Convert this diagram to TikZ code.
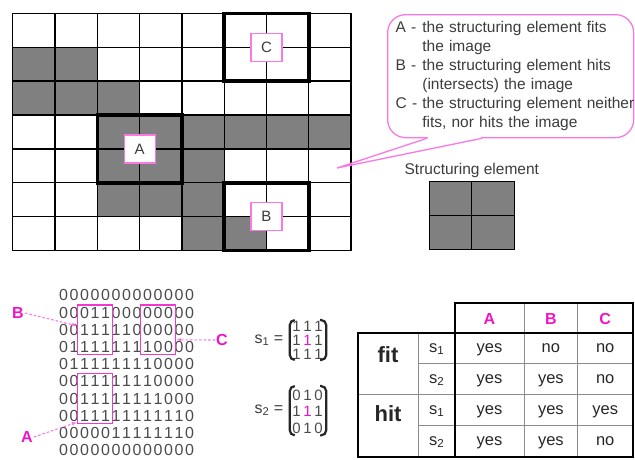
\documentclass[tikz,border=0pt]{standalone}
\usepackage{fontspec}
\setmainfont{Liberation Sans}
\usetikzlibrary{arrows.meta,positioning,fit,matrix}
\definecolor{mpink}{RGB}{240,20,200}
\definecolor{lpink}{RGB}{250,120,228}
\definecolor{cellgray}{RGB}{128,128,128}
\definecolor{inkgray}{RGB}{60,60,60}
\definecolor{digitgray}{RGB}{75,75,75}

\begin{document}
\begin{tikzpicture}[
    x=1pt,y=-1pt,
    font=\fontsize{15}{18}\selectfont,
    gridline/.style={draw=black,line width=1.3pt},
    sebox/.style={draw=black,line width=3.6pt,inner sep=0pt,
                  minimum width=84.6pt,minimum height=67.8pt},
    lbl/.style={draw=lpink,line width=1.2pt,fill=white,text=inkgray,
                minimum width=31pt,minimum height=28pt,inner sep=0pt},
    bubble/.style={draw=lpink,line width=1.3pt,rounded corners=18pt,
                   text width=230pt,inner xsep=8pt,minimum height=123pt,
                   text=inkgray,font=\fontsize{15.5}{19}\selectfont},
    digit/.style={text=digitgray,minimum width=10.5pt,minimum height=12pt,
                  inner sep=0pt,font=\fontsize{16}{16}\selectfont},
    sdigit/.style={text=digitgray,minimum width=11pt,minimum height=11.5pt,
                   inner sep=0pt,font=\fontsize{15}{15}\selectfont},
    hitbox/.style={draw=mpink!85,line width=1.4pt,inner xsep=1.5pt,inner ysep=1.5pt},
    plbl/.style={text=mpink,font=\fontsize{16}{16}\selectfont\bfseries,inner sep=1pt},
    brk/.style={draw=black!85,line width=2.2pt,rounded corners=5pt},
    dashar/.style={draw=lpink,line width=1.1pt,dash pattern=on 2.5pt off 2pt,
                   -{Latex[length=5pt,width=4pt]}},
    tthick/.style={draw=black,line width=1.8pt},
    tthin/.style={draw=black!45,line width=0.9pt},
    tcell/.style={text=black!85,inner sep=0pt,text height=11pt,text depth=3pt,
                  font=\fontsize{16.5}{18}\selectfont}
  ]
  \useasboundingbox (0,0) rectangle (635,459);

  % image on the grid
  \foreach \cc/\rr in {0/1,1/1,0/2,1/2,2/2,2/3,3/3,4/3,5/3,6/3,7/3,
                       2/4,3/4,4/4,2/5,3/5,4/5,4/6,5/6}
    \fill[cellgray] (12.7+\cc*42.3,13.3+\rr*33.9) rectangle ++(42.3,33.9);
  \foreach \cc in {0,...,8}
    \draw[gridline] (12.7+\cc*42.3,13.3) -- ++(0,237.3);
  \foreach \rr in {0,...,7}
    \draw[gridline] (12.7,13.3+\rr*33.9) -- ++(338.4,0);

  \node[sebox] (boxA) at (139.6,148.9) {};
  \node[sebox] (boxB) at (266.5,216.7) {};
  \node[sebox] (boxC) at (266.5,47.2) {};
  \node[lbl] (labA) at (boxA) {A};
  \node[lbl] (labB) at (boxB) {B};
  \node[lbl] (labC) at (boxC) {C};

  % callout
  \node[bubble,anchor=north west] (note) at (387,14) {%
    \begin{tabular}{@{}l@{ }l@{}}
      A -& the structuring element fits\\
         & the image\\
      B -& the structuring element hits\\
         & (intersects) the image\\
      C -& the structuring element neither\\
         & fits, nor hits the image
    \end{tabular}};
  \coordinate (tip) at (337,168);
  \draw[white,line width=2.2pt] ([xshift=41pt]note.south west) -- ([xshift=94pt]note.south west);
  \draw[lpink,line width=1.3pt] ([xshift=40pt]note.south west) -- (tip) -- ([xshift=95pt]note.south west);

  % structuring element
  \node[draw=black,line width=1.3pt,fill=cellgray,minimum width=85pt,
        minimum height=68pt] (selem) at (471.8,215.8) {};
  \draw[gridline] (selem.north) -- (selem.south);
  \draw[gridline] (selem.west) -- (selem.east);
  \node[above=0pt of selem,text=inkgray,font=\fontsize{15.5}{18}\selectfont] (setitle) {Structuring element};

  % binary image
  \matrix (img) [matrix of nodes,nodes={digit},column sep=0pt,row sep=5.2pt] at (126.5,372.8) {
    0&0&0&0&0&0&0&0&0&0&0&0&0\\
    0&0&0&1&1&0&0&0&0&0&0&0&0\\
    0&0&1&1&1&1&1&0&0&0&0&0&0\\
    0&1&1&1&1&1&1&1&1&0&0&0&0\\
    0&1&1&1&1&1&1&1&1&0&0&0&0\\
    0&0&1&1&1&1&1&1&1&0&0&0&0\\
    0&0&1&1&1&1&1&1&1&1&0&0&0\\
    0&0&1&1&1&1&1&1&1&1&1&1&0\\
    0&0&0&0&0&1&1&1&1&1&1&1&0\\
    0&0&0&0&0&0&0&0&0&0&0&0&0\\
  };
  \node[hitbox,fit=(img-2-3)(img-4-5)] (fitB) {};
  \node[hitbox,fit=(img-2-9)(img-4-11)] (fitC) {};
  \node[hitbox,fit=(img-6-3)(img-8-5)] (fitA) {};
  \node[plbl] (pB) at (18,313) {B};
  \node[plbl] (pA) at (27,437) {A};
  \node[plbl] (pC) at (222,340) {C};
  \draw[dashar] (pB.east) -- ([yshift=4pt]fitB.west);
  \draw[dashar] (pA.east) -- ([yshift=2pt]fitA.south west);
  \draw[dashar] (pC.west) -- ([yshift=-10pt]fitC.east);

  % structuring elements s1, s2
  \node[text=inkgray,font=\fontsize{16}{18}\selectfont] (s1lbl) at (269,340) {s\textsubscript{1} =};
  \matrix (s1) [matrix of nodes,nodes={sdigit},row sep=2.5pt,inner sep=0pt] at (307.5,340) {
    1&1&1\\
    1&|[text=mpink]|1&1\\
    1&1&1\\
  };
  \draw[brk] ([xshift=4pt]s1.north west) -- ([xshift=-1pt]s1.north west)
    -- ([xshift=-1pt]s1.south west) -- ([xshift=4pt]s1.south west);
  \draw[brk] ([xshift=-4pt]s1.north east) -- ([xshift=2pt]s1.north east)
    -- ([xshift=2pt]s1.south east) -- ([xshift=-4pt]s1.south east);

  \node[text=inkgray,font=\fontsize{16}{18}\selectfont] (s2lbl) at (269,410) {s\textsubscript{2} =};
  \matrix (s2) [matrix of nodes,nodes={sdigit},row sep=5.2pt,inner sep=0pt] at (307.5,411.7) {
    0&1&0\\
    1&|[text=mpink]|1&1\\
    0&1&0\\
  };
  \draw[brk] ([xshift=4pt,yshift=3pt]s2.north west) -- ([xshift=-1pt,yshift=3pt]s2.north west)
    -- ([xshift=-1pt,yshift=-1pt]s2.south west) -- ([xshift=4pt,yshift=-1pt]s2.south west);
  \draw[brk] ([xshift=-4pt,yshift=3pt]s2.north east) -- ([xshift=2pt,yshift=3pt]s2.north east)
    -- ([xshift=2pt,yshift=-1pt]s2.south east) -- ([xshift=-4pt,yshift=-1pt]s2.south east);

  % table of results
  \draw[tthin] (524,302.7) -- (524,456.7);
  \draw[tthin] (577.7,302.7) -- (577.7,456.7);
  \draw[tthin] (418.3,332.7) -- (418.3,456.7);
  \draw[tthin] (418.3,363.7) -- (632.7,363.7);
  \draw[tthin] (418.3,425.7) -- (632.7,425.7);
  \draw[tthin] (358,394.7) -- (632.7,394.7);
  \draw[tthick] (455,302.7) rectangle (632.7,332.7);
  \draw[tthick] (358,332.7) rectangle (632.7,456.7);
  \draw[tthick] (455,332.7) -- (455,456.7);

  \node[plbl] (hA) at (489.5,319) {A};
  \node[plbl] (hB) at (550.9,319) {B};
  \node[plbl] (hC) at (605.2,319) {C};
  \node[text=black!85,anchor=base,font=\fontsize{22}{22}\selectfont\bfseries] (tfit) at (388,362) {fit};
  \node[text=black!85,anchor=base,font=\fontsize{22}{22}\selectfont\bfseries] (thit) at (388,421.5) {hit};
  \foreach \yy/\ss/\ra/\rb/\rc [count=\i] in {348.2/1/yes/no/no,379.2/2/yes/yes/no,
                                              410.2/1/yes/yes/yes,441.2/2/yes/yes/no} {
    \node[tcell] (s-\i) at (436.7,\yy) {s\textsubscript{\ss}};
    \node[tcell] (a-\i) at (489.5,\yy) {\ra};
    \node[tcell] (b-\i) at (550.9,\yy) {\rb};
    \node[tcell] (c-\i) at (605.2,\yy) {\rc};
  }
\end{tikzpicture}
\end{document}
